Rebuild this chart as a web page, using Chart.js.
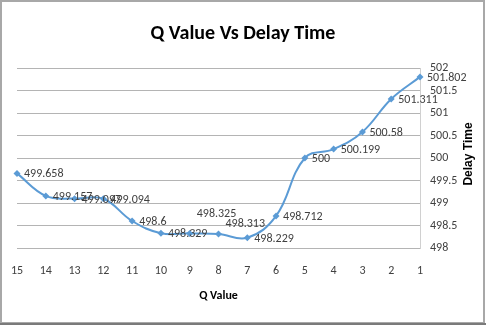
<!DOCTYPE html>
<html>
<head>
<meta charset="utf-8">
<script src="https://cdn.jsdelivr.net/npm/chart.js@4"></script>
<style>
html,body{margin:0;padding:0;background:#fff;}
#wrap{width:486px;height:325px;position:relative;}
</style>
</head>
<body>
<div id="wrap"><canvas id="c" width="486" height="325"></canvas></div>
<script>
const categories = ["15","14","13","12","11","10","9","8","7","6","5","4","3","2","1"];
const delayTime = [499.658, 499.157, 499.097, 499.094, 498.6, 498.329, 498.325, 498.313, 498.229, 498.712, 500, 500.199, 500.58, 501.311, 501.802];
const yTickMin = 498, yTickMax = 502, yTickStep = 0.5;
const chartTitle = "Q Value Vs Delay Time";
const xTitle = "Q Value";
const yTitle = "Delay Time";

// label nudges (style only, in px)
const labelNudgeY = [0,0,0,0,0,0,-20,-11,0,0,0,0,0,0,0];

const FONT = 'Carlito';

const textPlugin = {
  id: 'textPlugin',
  beforeDraw(chart) {
    const ctx = chart.ctx;
    ctx.save();
    ctx.fillStyle = '#fff';
    ctx.fillRect(0,0,chart.width,chart.height);
    ctx.strokeStyle = '#a8a8a8';
    ctx.lineWidth = 2;
    ctx.strokeRect(1, 1, 483, 322);
    ctx.strokeStyle = '#7a7a7a';
    ctx.beginPath(); ctx.moveTo(0, 324); ctx.lineTo(486, 324); ctx.stroke();
    ctx.restore();
  },
  afterDraw(chart) {
    const ctx = chart.ctx;
    const area = chart.chartArea;
    ctx.save();
    ctx.fillStyle = '#000';
    ctx.font = 'bold 20px ' + FONT;
    ctx.textAlign = 'center';
    ctx.textBaseline = 'middle';
    ctx.fillText(chartTitle, 243, 34);
    ctx.font = 'bold 12px ' + FONT;
    ctx.fillText(xTitle, (area.left + area.right) / 2, 296);
    ctx.save();
    ctx.translate(469, (area.top + area.bottom) / 2 - 4);
    ctx.rotate(-Math.PI / 2);
    ctx.font = 'bold 12px "Liberation Sans"';
    ctx.fillText(yTitle, 0, 0);
    ctx.restore();
    const meta = chart.getDatasetMeta(0);
    ctx.font = '12px ' + FONT;
    ctx.fillStyle = '#404040';
    ctx.textAlign = 'left';
    ctx.textBaseline = 'middle';
    meta.data.forEach((pt, i) => {
      ctx.fillText(String(delayTime[i]), pt.x + 7, pt.y + 1 + labelNudgeY[i]);
    });
    ctx.restore();
  }
};

new Chart(document.getElementById('c'), {
  type: 'line',
  data: {
    labels: categories,
    datasets: [{
      data: delayTime,
      borderColor: '#5b9bd5',
      backgroundColor: '#5b9bd5',
      borderWidth: 2,
      tension: 0.4,
      pointStyle: 'rectRot',
      pointRadius: 3.5,
      pointBorderWidth: 0,
      fill: false
    }]
  },
  options: {
    responsive: false,
    animation: false,
    devicePixelRatio: 1,
    layout: { padding: { left: 17, top: 68, right: 0, bottom: 0 } },
    plugins: { legend: { display: false }, title: { display: false }, tooltip: { enabled: false } },
    scales: {
      x: {
        type: 'category',
        offset: false,
        grid: { display: false, drawTicks: false },
        border: { display: false },
        ticks: { color: '#404040', font: { family: FONT, size: 12 }, padding: 16, maxRotation: 0, autoSkip: false },
        afterFit(s) { s.height = 77; s.paddingLeft = 0; s.paddingRight = 0; }
      },
      y: {
        position: 'right',
        min: yTickMin, max: yTickMax,
        grid: { color: '#b4b4b4', lineWidth: 1, drawTicks: false },
        border: { display: true, color: '#d0d0d0', width: 1 },
        ticks: { stepSize: yTickStep, color: '#404040', font: { family: FONT, size: 12 }, padding: 10,
          callback: v => String(v) },
        afterFit(s) { s.width = 66; s.paddingTop = 0; s.paddingBottom = 0; }
      }
    }
  },
  plugins: [textPlugin]
});
</script>
</body>
</html>
